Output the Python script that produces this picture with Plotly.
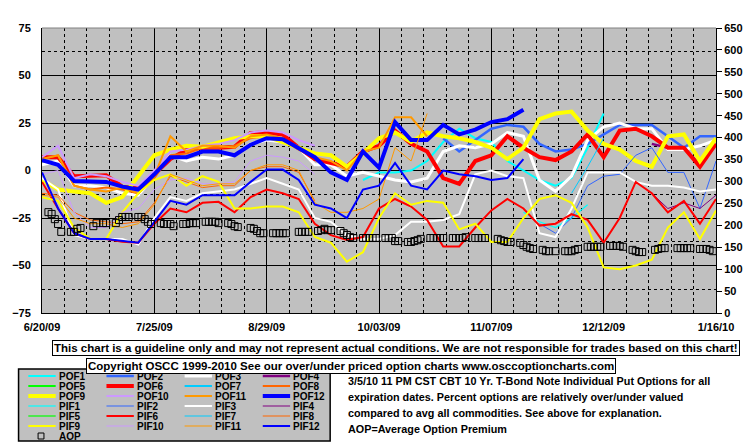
import pandas as pd
import plotly.graph_objects as go

N = None

# sample dates for the POF/PIF series (every 5 days)
grid = pd.date_range("2009-06-20", "2010-01-16", freq="5D")

POF1 = [N, N, N, N, N, N, N,  N, N, N, N, N, N, N,  N, N, N, N, N, N, -5,
        -1, -1, 0, 5, 15, 22, 17,  15, 5, 0, -5, -8, -4, 12,  30, N, N, N, N, N, N,  N]
POF2 = [N, N, N, N, N, N, N,  N, N, N, N, N, N, N,  N, N, N, N, N, N, N,
        N, N, N, N, 17, 10, 16,  22, 24, 23, 14, 10, 11, 14,  19, 24, 24, 24, 18, 12, 18,  18]
POF3 = [3, 5, -8, -8, -9, -12, -13,  -3, 8, 5, 7, 6, 8, 14,  16, 15, 12, 3, 3, -3, -1,
        -3, -5, -6, -4, 10, 13, 12,  14, 20, 18, -5, -11, -3, 16,  23, 25, 22, 22, 11, 11, 13,  16]
POF4 = [N, N, N, N, N, N, N,  N, N, N, N, N, N, N,  N, N, N, N, N, N, N,
        N, N, N, N, N, N, N,  N, N, N, N, N, N, N,  N, N, N, 14, 12, 12, 3,  14]
POF6 = [7, 7, -3, -2.5, -2.5, -8.5, -9.5,  -2, 6, 11, 12, 12, 12.5, 19.7,  20, 19, 12, 6, 4, 2, 10,
        13, 21, 14, 10, -4, -7, 5,  8, 18, 12, 7, 5.5, 10, 19,  7, 21, 22, 18, 12, 12, 2,  14]
POF8 = [6, 8, -8, -10, -9, -10, -12,  -4, 8, 9, 12, 12, 13, 17,  18, 16, 11, 7, N, N, N,
        N, N, N, N, N, N, N,  N, N, N, N, N, N, N,  N, N, N, N, N, N, N,  N]
POF9 = [-5, -10, -11, -12, -17, -14, -3,  8, 11, 13, 12.5, 14.5, 17, 18,  18, 15, 12, 9, 8, 2, 9,
        17, 20, 15, 20, 18, 17, 15,  12, 6, 12, 27, 30, 31, 21,  14, 11, 5, 2, 18, 19, 5,  17]
POF10 = [7, 13, -4, -2, -3, -6, -8,  0, 10, 11, 13, 14, 16, 20,  21, 20, 16, 13, N, N, N,
         N, N, N, N, N, N, N,  N, N, N, N, N, N, N,  N, N, N, N, N, N, N,  N]
POF11 = [6, 8, -8, -10, -11, -9, -12,  -3, 18, 10, 13, 13, 12, 18,  19, 17, 11, 7, 5, 0, 10,
         12, 28, 28, 18, N, N, N,  N, N, N, N, N, N, N,  N, N, N, N, N, N, N,  N]
POF12 = [5.5, 3, -5.5, -6, -6, -8.5, -10,  -2, 7, 7, 10, 10, 8, 13.5,  17, 16.5, 12, 7, -1, -5, 10,
         1.5, 25.5, 16, 16, 24, 19, 21.5,  25.5, 27, 32, N, N, N, N,  N, N, N, N, N, N, N,  N]

PIF1 = [N, N, N, N, N, N, N,  N, N, N, N, N, N, N,  N, N, N, N, N, N, N,
        N, N, N, N, N, N, N,  N, N, -22, -27, -30, -25, -18,  N, N, N, N, N, N, N,  N]
PIF2 = [N, N, N, N, N, N, N,  N, N, N, N, N, N, N,  N, N, N, N, N, N, N,
        N, N, N, N, N, N, N,  N, N, N, -28, -33, -25, -8,  -3, -2, 8, 12, -1, -1, -20,  5]
PIF3 = [-4, -10, -34, -36, -36, -36, -39,  -25, -14, -16, -12, -11, -10, -7,  -4, -7, -10, -25, -27, -34, -36,
        -36, -34, -27, -27, -26, -23, -2,  0, -3, -4, -33, -35, -20, -1,  -1, -1, -6, -8, -8, -9, -11,  -10]
PIF4 = [N, N, N, N, N, N, N,  N, N, N, N, N, N, N,  N, N, N, N, N, N, N,
        N, N, N, N, N, N, N,  N, N, N, N, N, N, N,  N, N, N, -12, -20, -17, -20,  -13]
PIF6 = [-6, -20, -33, -36, -36, -37.5, -38,  -28, -20, -22, -17, -16.5, -22, -14,  -10, -12, -15, -28, -34, -36.5, -35,
        -20, -15, -19, -26, -40, -40, -30,  -21, -15, -20, -29, -28, -23, -26,  -38, -25, -6, -12, -22, -16, -28,  -15]
PIF7 = [N, N, N, N, N, N, N,  N, N, N, N, N, N, N,  N, N, N, N, N, N, N,
        N, N, N, N, N, N, N,  N, N, N, N, N, -12, 2,  17, N, N, N, N, N, N,  N]
PIF8 = [-12, -13, -22, -26, -27, -28, -27,  -17, -3, -6, -9, -8, -8, 0,  2, 2, -1, -16, N, N, N,
        N, N, N, N, N, N, N,  N, N, N, N, N, N, N,  N, N, N, N, N, N, N,  N]
PIF9 = [-14, -16, -30, -36, -36, -22, -12,  -5, -2, -8, -3, -6, -20, -20,  -19, -19, -22, -35, -38, -48, -43,
        -25, -12, -18, -16, -17, -31, -28,  -37.6, -37.6, -25, -15, -13, -17, -30,  -51, -52, -50, -47, -30, -22, -36,  -21]
PIF10 = [-2, 0, -22, -30, -30, -22, -20,  -10, -5, -4, -7, -7, -6, 5,  8, 7, 5, -2, N, N, N,
         N, N, N, N, N, N, N,  N, N, N, N, N, N, N,  N, N, N, N, N, N, N,  N]
PIF11 = [-13, -14, -25, -28, -28, -30, -28,  -18, -2, -5, -8, -7, -7, 0,  3, 3, 0, -17, -22, -22, -20,
         -15, 12, 5, 30, N, N, N,  N, N, N, N, N, N, N,  N, N, N, N, N, N, N,  N]
PIF12 = [-1, -20, -33, -36, -36, -37, -38,  -27, -16, -18, -13, -13, -13, -6,  0.5, 0.5, -5, -18, -20, -25, -10,
         -8, 4, -8, -10, 0, -2, -3,  -5, -4, 6, N, N, N, N,  N, N, N, N, N, N, N,  N]

# Average option premium, one value per trading day (right axis)
AOP_dates = pd.bdate_range("2009-06-22", "2010-01-15")
AOP = [230, 226, 214, 203, 185,
       185, 185, 192, 194, N,
       198, 205, N, 205, 205,
       205, 212, 219, 219, 219,
       219, 219, 214, 208, 203,
       205, 203, 203, 203, 198,
       203, 203, 205, 205, 205,
       208, 208, 208, 208, 205,
       205, 203, 198, 196, N,
       194, 192, 187, 182, 182,
       182, 182, 182, 182, 182,
       N, 185, 185, 185, 185,
       187, 189, 192, 189, 189,
       187, 182, 178, 173, 171,
       171, 171, 171, 171, 171,
       171, 171, 171, 164, 164,
       162, 162, 164, 166, 169,
       171, 171, 171, 171, 171,
       171, 171, 171, 171, 173,
       171, 171, 171, 171, N,
       169, 166, 164, 162, 162,
       160, 155, 151, 148, 146,
       144, 141, 141, N, 141,
       141, 141, 141, 144, 146,
       151, 151, 151, 151, 151,
       153, 153, 153, 153, 151,
       144, 141, 139, 139, N,
       144, 146, 148, 148, N,
       148, 148, 148, 148, 148,
       146, 146, 146, 144, 141]

LEGEND_NAMES = ["POF1", "POF2", "POF3", "POF4", "POF5", "POF6", "POF7", "POF8",
                "POF9", "POF10", "POF11", "POF12", "PIF1", "PIF2", "PIF3", "PIF4",
                "PIF5", "PIF6", "PIF7", "PIF8", "PIF9", "PIF10", "PIF11", "PIF12"]
VALUES = {"POF1": POF1, "POF2": POF2, "POF3": POF3, "POF4": POF4, "POF6": POF6,
          "POF8": POF8, "POF9": POF9, "POF10": POF10, "POF11": POF11, "POF12": POF12,
          "PIF1": PIF1, "PIF2": PIF2, "PIF3": PIF3, "PIF4": PIF4, "PIF6": PIF6,
          "PIF7": PIF7, "PIF8": PIF8, "PIF9": PIF9, "PIF10": PIF10, "PIF11": PIF11,
          "PIF12": PIF12}

BASE_COL = {1: "#00FFFF", 2: "#3366FF", 3: "#FFFFFF", 4: "#800080", 5: "#00FF00", 6: "#FF0000",
            7: "#00CCFF", 8: "#FF6600", 9: "#FFFF00", 10: "#CC99FF", 11: "#FF9900", 12: "#0000FF"}
POF_W = {1: 2, 2: 2.5, 3: 3, 4: 2.5, 5: 2, 6: 4, 7: 2, 8: 2, 9: 4, 10: 2, 11: 2, 12: 4}
PIF_W = {1: 1.2, 2: 1, 3: 2, 4: 1, 5: 1.2, 6: 2, 7: 1, 8: 1, 9: 2, 10: 1, 11: 1, 12: 2}


def style(name):
    k = int(name[3:])
    return BASE_COL[k], (POF_W[k] if name.startswith("POF") else PIF_W[k])


FONT = "Liberation Sans, Arial, sans-serif"
L, R, T, B = 32, 722, 28, 313


def px(x):
    return (x - L) / (R - L)


def py(y):
    return (B - y) / (B - T)


fig = go.Figure()
for n in LEGEND_NAMES:
    if n not in VALUES:
        continue
    c, w = style(n)
    fig.add_trace(go.Scatter(x=grid, y=VALUES[n], mode="lines", name=n,
                             line=dict(color=c, width=w), connectgaps=False,
                             showlegend=False, hoverinfo="skip"))
fig.add_trace(go.Scatter(x=AOP_dates, y=AOP, mode="markers", name="AOP", yaxis="y2",
                         marker=dict(symbol="square-open", size=7, color="black",
                                     line=dict(width=1, color="black")),
                         showlegend=False, hoverinfo="skip"))

DAY = 86400000
CLEAR = "rgba(0,0,0,0)"
fig.update_layout(
    width=755, height=446, autosize=False,
    margin=dict(l=L, r=755 - R, t=T, b=446 - B, pad=0),
    paper_bgcolor="white", plot_bgcolor="#C0C0C0",
    showlegend=False,
    font=dict(family=FONT, size=11, color="black", weight="bold"),
    xaxis=dict(type="date", range=["2009-06-20", "2010-01-16"], tick0="2009-06-20",
               dtick=35 * DAY, tickformat="%-m/%d/%y", showgrid=True, gridcolor="black",
               gridwidth=1,
               minor=dict(tick0="2009-06-20", dtick=7 * DAY, showgrid=True,
                          gridcolor="black", griddash="3px,3px", gridwidth=1),
               showline=True, linecolor="black", linewidth=1,
               ticks="outside", ticklen=4, tickcolor=CLEAR, zeroline=False,
               tickfont=dict(family=FONT, size=11, weight="bold")),
    yaxis=dict(range=[-75, 75], tick0=0, dtick=25, showgrid=True, gridcolor="black",
               gridwidth=1,
               minor=dict(tick0=0, dtick=12.5, showgrid=True, gridcolor="black",
                          griddash="3px,3px", gridwidth=1),
               showline=True, linecolor="black", linewidth=1,
               ticks="outside", ticklen=8, tickcolor=CLEAR, zeroline=False,
               tickfont=dict(family=FONT, size=11, weight="bold")),
    yaxis2=dict(range=[0, 650], tick0=0, dtick=50, overlaying="y", side="right",
                showgrid=False, showline=True, linecolor="black", linewidth=1,
                ticks="outside", ticklen=5, tickcolor="black", zeroline=False,
                tickfont=dict(family=FONT, size=11, weight="bold")),
)

# top border of plot area
fig.add_shape(type="line", xref="paper", yref="paper", x0=0, x1=1, y0=1, y1=1,
              line=dict(color="#808080", width=1))

# legend box
fig.add_shape(type="rect", xref="paper", yref="paper", x0=px(8), x1=px(327),
              y0=py(441), y1=py(369), fillcolor="#C0C0C0",
              line=dict(color="black", width=1.5), layer="above")
for i, n in enumerate(LEGEND_NAMES):
    r, col = divmod(i, 4)
    x0 = 18 + 80 * col
    yy = 376 + 10 * r
    c, w = style(n)
    fig.add_shape(type="line", xref="paper", yref="paper", x0=px(x0), x1=px(x0 + 28),
                  y0=py(yy), y1=py(yy), line=dict(color=c, width=w), layer="above")
    fig.add_annotation(xref="paper", yref="paper", x=px(x0 + 29), y=py(yy), text=n,
                       showarrow=False, xanchor="left", yanchor="middle",
                       font=dict(family=FONT, size=10, weight="bold", color="black"))
# AOP legend entry
fig.add_shape(type="rect", xref="paper", yref="paper", x0=px(28), x1=px(34),
              y0=py(439), y1=py(433), line=dict(color="black", width=1), layer="above")
fig.add_annotation(xref="paper", yref="paper", x=px(47), y=py(436), text="AOP",
                   showarrow=False, xanchor="left", yanchor="middle",
                   font=dict(family=FONT, size=10, weight="bold", color="black"))

# disclaimer boxes
fig.add_annotation(xref="paper", yref="paper", x=px(394.5), y=py(347.5),
                   text="This chart is a guideline only and may not represent actual conditions. "
                        "We are not responsible for trades based on this chart!",
                   showarrow=False, xanchor="center", yanchor="middle", bgcolor="white",
                   bordercolor="black", borderwidth=1, borderpad=1,
                   font=dict(family=FONT, size=11.5, weight="bold", color="black"))
fig.add_annotation(xref="paper", yref="paper", x=px(348), y=py(366),
                   text="Copyright OSCC 1999-2010 See our over/under priced option charts "
                        "www.osccoptioncharts.com",
                   showarrow=False, xanchor="center", yanchor="middle", bgcolor="white",
                   bordercolor="black", borderwidth=1, borderpad=1,
                   font=dict(family=FONT, size=11.5, weight="bold", color="black"))

NOTE_LINES = ["3/5/10 11 PM CST CBT 10 Yr. T-Bond Note Individual Put Options for all",
              "expiration dates. Percent options are relatively over/under valued",
              "compared to avg all commodities. See above for explanation.",
              "AOP=Average Option Premium"]
for i, t in enumerate(NOTE_LINES):
    fig.add_annotation(xref="paper", yref="paper", x=px(343), y=py(381 + 16 * i), text=t,
                       showarrow=False, xanchor="left", yanchor="middle",
                       font=dict(family=FONT, size=10.8, weight="bold", color="black"))

fig.write_html("out.html", config={"displayModeBar": False},
               post_script="document.body.style.margin='0px';document.body.style.overflow='hidden';")
